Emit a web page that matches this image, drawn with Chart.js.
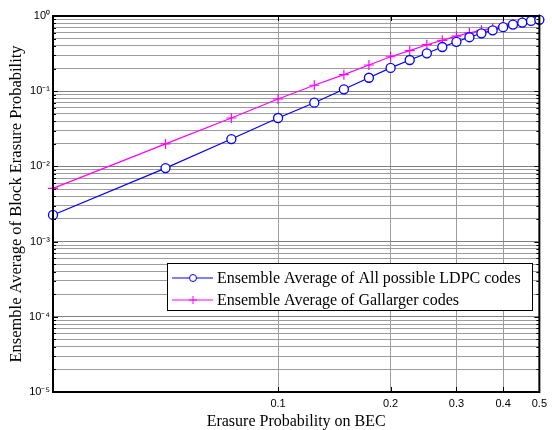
<!DOCTYPE html>
<html>
<head>
<meta charset="utf-8">
<script src="https://cdn.jsdelivr.net/npm/chart.js@4/dist/chart.umd.min.js"></script>
<style>
  html, body { margin: 0; padding: 0; background: #fff; }
  #wrap { width: 552px; height: 430px; }
</style>
</head>
<body>
<div id="wrap"><canvas id="bec" width="552" height="430"></canvas></div>
<script>
// erasure probability on the BEC (x) and the two ensemble curves (y)
const erasureProb = [0.025, 0.05, 0.075, 0.1, 0.125, 0.15, 0.175, 0.2, 0.225, 0.25,
  0.275, 0.3, 0.325, 0.35, 0.375, 0.4, 0.425, 0.45, 0.475, 0.5];
const ldpcAll = [0.00226, 0.0095, 0.0231, 0.044, 0.0703, 0.106, 0.151, 0.204, 0.26, 0.319,
  0.387, 0.454, 0.522, 0.589, 0.645, 0.71, 0.77, 0.818, 0.86, 0.89];
const gallager = [0.0051, 0.0199, 0.044, 0.0788, 0.12, 0.166, 0.223, 0.287, 0.346, 0.415,
  0.475, 0.54, 0.595, 0.645, 0.69, 0.74, 0.785, 0.832, 0.872, 0.905];
const seriesLabels = ['Ensemble Average of All possible LDPC codes', 'Ensemble Average of Gallarger codes'];

const xTickValues = [0.1, 0.2, 0.3, 0.4, 0.5];
const yDecades = [-5, -4, -3, -2, -1, 0];
const yMultipliers = [1, 2, 3, 4, 5, 6, 7, 8, 9];

const SUP = { '-': '\u207B', '0': '\u2070', '1': '\u00B9', '2': '\u00B2', '3': '\u00B3', '4': '\u2074', '5': '\u2075' };
const supText = (n) => String(n).split('').map((ch) => SUP[ch]).join('');

const yTicks = [];
yDecades.forEach((d) => {
  yMultipliers.forEach((m) => {
    const v = m * Math.pow(10, d);
    if (v <= 1.0000001) yTicks.push({ value: v, major: m === 1, exp: d });
  });
});

const SERIF = '"Liberation Serif", "Times New Roman", serif';

const frame = {
  id: 'frame',
  afterDatasetsDraw(chart) {
    const { ctx, chartArea: a, scales } = chart;
    const x = scales.x, y = scales.y;
    ctx.save();
    ctx.strokeStyle = '#000';
    ctx.lineWidth = 1;
    yTicks.forEach((t) => {
      const py = Math.round(y.getPixelForValue(t.value)) + 0.5;
      const len = t.major ? 5 : 3;
      ctx.beginPath();
      ctx.moveTo(a.left, py); ctx.lineTo(a.left + len, py);
      ctx.moveTo(a.right, py); ctx.lineTo(a.right - len, py);
      ctx.stroke();
    });
    xTickValues.forEach((v) => {
      const px = Math.round(x.getPixelForValue(v)) + 0.5;
      ctx.beginPath();
      ctx.moveTo(px, a.bottom); ctx.lineTo(px, a.bottom - 5);
      ctx.moveTo(px, a.top); ctx.lineTo(px, a.top + 5);
      ctx.stroke();
    });
    ctx.lineWidth = 2;
    ctx.strokeRect(a.left, a.top, a.right - a.left, a.bottom - a.top);

    // legend box inside the plot
    const bx = 167, by = 263, bw = 365, bh = 47;
    ctx.fillStyle = '#fff';
    ctx.fillRect(bx, by, bw, bh);
    ctx.lineWidth = 1;
    ctx.strokeRect(bx + 0.5, by + 0.5, bw, bh);
    ctx.font = '16px ' + SERIF;
    ctx.textBaseline = 'middle';
    chart.data.datasets.forEach((ds, i) => {
      const ry = by + 15 + i * 22;
      ctx.strokeStyle = ds.borderColor;
      ctx.lineWidth = 1;
      ctx.beginPath();
      ctx.moveTo(bx + 5, ry); ctx.lineTo(bx + 46, ry);
      ctx.stroke();
      ctx.fillStyle = '#fff';
      Chart.helpers.drawPoint(ctx, { pointStyle: ds.pointStyle, radius: ds.pointRadius - 1, rotation: 0, borderWidth: ds.pointBorderWidth }, bx + 26, ry);
      ctx.fillStyle = '#000';
      ctx.fillText(ds.label, bx + 50, ry + 1);
    });
    ctx.restore();
  }
};

new Chart(document.getElementById('bec'), {
  type: 'line',
  data: {
    datasets: [
      {
        label: seriesLabels[0],
        data: erasureProb.map((p, i) => ({ x: p, y: ldpcAll[i] })),
        borderColor: '#0000ff',
        borderWidth: 1.2,
        pointStyle: 'circle',
        pointRadius: 4.5,
        pointBorderWidth: 1.3,
        pointBorderColor: '#0000ff',
        pointBackgroundColor: '#ffffff',
        clip: false
      },
      {
        label: seriesLabels[1],
        data: erasureProb.map((p, i) => ({ x: p, y: gallager[i] })),
        borderColor: '#ff00ff',
        borderWidth: 1.2,
        pointStyle: 'cross',
        pointRadius: 5,
        pointBorderWidth: 1.2,
        pointBorderColor: '#ff00ff',
        clip: false
      }
    ]
  },
  options: {
    responsive: false,
    animation: false,
    layout: { padding: { left: 0, right: 7, top: 16, bottom: 0 } },
    plugins: { legend: { display: false }, tooltip: { enabled: false } },
    scales: {
      x: {
        type: 'logarithmic',
        min: 0.025,
        max: 0.5,
        afterBuildTicks: (scale) => { scale.ticks = xTickValues.map((v) => ({ value: v })); },
        afterFit: (scale) => { scale.height = 38; },
        grid: { color: '#9c9c9c', lineWidth: 1, drawTicks: false },
        border: { display: false },
        ticks: {
          padding: 5,
          autoSkip: false,
          maxRotation: 0,
          color: '#000',
          font: { family: '"Liberation Sans", Arial, sans-serif', size: 11 },
          callback: (v) => String(v)
        },
        title: {
          display: true,
          text: 'Erasure Probability on BEC',
          color: '#000',
          padding: { top: 0, bottom: -1 },
          font: { family: SERIF, size: 16 }
        }
      },
      y: {
        type: 'logarithmic',
        min: 1e-5,
        max: 1,
        afterBuildTicks: (scale) => { scale.ticks = yTicks.map((t) => ({ value: t.value, major: t.major })); },
        afterFit: (scale) => { scale.width = 53; },
        grid: {
          color: (c) => (c.tick && c.tick.major ? '#808080' : '#9c9c9c'),
          lineWidth: 1,
          drawTicks: false
        },
        border: { display: false },
        ticks: {
          padding: 3,
          autoSkip: false,
          color: '#000',
          font: { family: '"Liberation Sans", Arial, sans-serif', size: 11 },
          callback: (v) => {
            const t = yTicks.find((k) => Math.abs(k.value - v) < v * 1e-6);
            return t && t.major ? '10' + supText(t.exp) : '';
          }
        },
        title: {
          display: true,
          text: 'Ensemble Average of Block Erasure Probability',
          color: '#000',
          padding: { top: 7, bottom: 0 },
          font: { family: SERIF, size: 16.5 }
        }
      }
    }
  },
  plugins: [frame]
});
</script>
</body>
</html>
